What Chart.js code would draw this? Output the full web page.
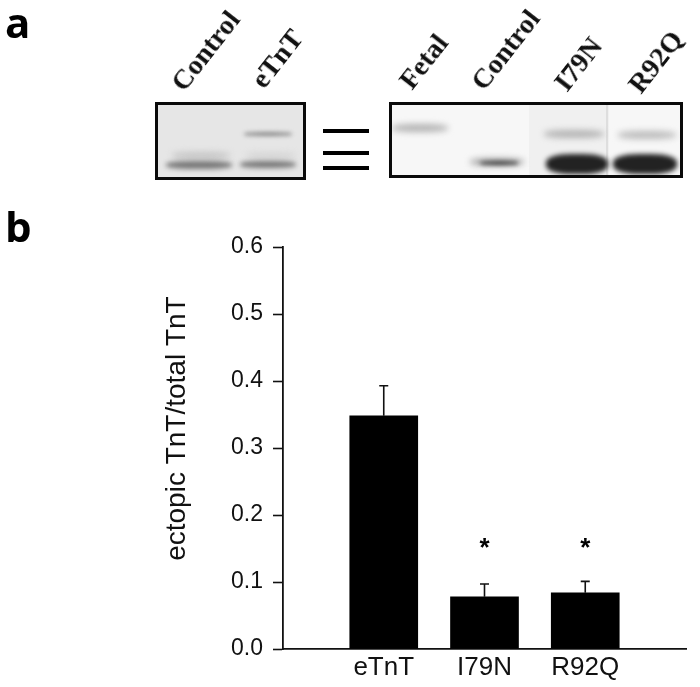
<!DOCTYPE html>
<html>
<head>
<meta charset="utf-8">
<script src="https://cdn.jsdelivr.net/npm/chart.js@4"></script>
<style>
  html, body { margin: 0; background: #fff; }
  #page { position: relative; width: 700px; height: 687px; overflow: hidden; }
  #ratio { position: absolute; left: 0; top: 0; }
  .letter { position: absolute; font: 700 42px "Open Sans", sans-serif; color: #000; line-height: 1; }
  .lane { position: absolute; font: bold 28px "Liberation Serif", serif; color: #111; white-space: nowrap;
          transform-origin: 0 100%; transform: rotate(-52deg); line-height: 1; filter: blur(0.4px); }
  .gel { position: absolute; box-sizing: border-box; border: 3.5px solid #0a0a0a; overflow: hidden; }
  .band, .shade { position: absolute; }
  .dash { position: absolute; left: 323px; width: 46px; height: 3.5px; background: #000; }
</style>
</head>
<body>
<div id="page">
  <canvas id="ratio" width="700" height="687"></canvas>

  <div class="letter" style="left:5px;top:1px">a</div>
  <div class="letter" style="left:5px;top:205px">b</div>

  <div class="lane" style="left:188px;top:68px">Control</div>
  <div class="lane" style="left:268px;top:65px">eTnT</div>
  <div class="lane" style="left:416px;top:66px">Fetal</div>
  <div class="lane" style="left:488px;top:67px">Control</div>
  <div class="lane" style="left:571px;top:68px">I79N</div>
  <div class="lane" style="left:645px;top:70px">R92Q</div>

  <div class="gel" id="gelLeft" style="left:155px;top:102px;width:151px;height:78px;background:#e6e6e6"></div>
  <div class="dash" style="top:129px"></div>
  <div class="dash" style="top:151px"></div>
  <div class="dash" style="top:166px"></div>
  <div class="gel" id="gelRight" style="left:389px;top:102px;width:294px;height:76px;background:#f7f7f7"></div>
</div>

<script>
// bar values
var categories = ['', 'eTnT', 'I79N', 'R92Q', ''];
var ratios = [null, 0.348, 0.078, 0.084, null];
var errorTops = [null, 0.393, 0.097, 0.101, null];
var starAt = [null, null, 0.15, 0.15, null];
var yTicks = [0, 0.1, 0.2, 0.3, 0.4, 0.5, 0.6];

// blots in panel a: x, y, w, h, colour, blur (relative to the gel box)
var leftBands = [
  [86, 27, 48, 4, '#888', 2],
  [14, 47, 58, 7, '#c4c4c4', 3],
  [88, 48, 50, 5, '#d0d0d0', 3],
  [8, 56, 66, 8, '#777', 2.5],
  [82, 56, 56, 7, '#777', 2.5]
];
var rightBands = [
  [0, 19, 56, 8, '#b4b4b4', 3],
  [78, 53, 54, 8, '#aaa', 3],
  [88, 56, 38, 4, '#444', 2],
  [152, 25, 60, 8, '#b4b4b4', 3],
  [226, 26, 58, 8, '#bcbcbc', 3],
  [154, 49, 62, 20, '#222', 2.5],
  [221, 49, 64, 20, '#222', 2.5]
];
var laneShades = [
  [137, 0, 80, 70, '#f0f0f0'],
  [214, 0, 2, 70, '#dedede']
];

function addBlots(id, bands) {
  var gel = document.getElementById(id);
  bands.forEach(function (b) {
    var d = document.createElement('div');
    d.className = 'band';
    d.style.cssText = 'left:' + b[0] + 'px;top:' + b[1] + 'px;width:' + b[2] + 'px;height:' + b[3] +
      'px;background:' + b[4] + ';border-radius:40%;filter:blur(' + b[5] + 'px)';
    gel.appendChild(d);
  });
}
function addShades(id, shades) {
  var gel = document.getElementById(id);
  shades.forEach(function (b) {
    var d = document.createElement('div');
    d.className = 'shade';
    d.style.cssText = 'left:' + b[0] + 'px;top:' + b[1] + 'px;width:' + b[2] + 'px;height:' + b[3] + 'px;background:' + b[4];
    gel.appendChild(d);
  });
}
addShades('gelRight', laneShades);
addBlots('gelLeft', leftBands);
addBlots('gelRight', rightBands);

// whiskers and asterisks, placed through the chart scales
var barExtras = {
  id: 'barExtras',
  afterDatasetsDraw: function (chart) {
    var ctx = chart.ctx, x = chart.scales.x, y = chart.scales.y;
    ctx.save();
    ctx.strokeStyle = '#111';
    ctx.lineWidth = 1.6;
    errorTops.forEach(function (top, i) {
      if (top === null) return;
      var px = x.getPixelForValue(i), t = y.getPixelForValue(top), b = y.getPixelForValue(ratios[i]);
      ctx.beginPath();
      ctx.moveTo(px, b); ctx.lineTo(px, t);
      ctx.moveTo(px - 4.5, t); ctx.lineTo(px + 4.5, t);
      ctx.stroke();
    });
    ctx.fillStyle = '#000';
    ctx.font = 'bold 26px "Liberation Sans"';
    ctx.textAlign = 'center';
    ctx.textBaseline = 'middle';
    starAt.forEach(function (v, i) {
      if (v !== null) ctx.fillText('*', x.getPixelForValue(i), y.getPixelForValue(v));
    });
    ctx.restore();
  }
};

new Chart(document.getElementById('ratio').getContext('2d'), {
  type: 'bar',
  data: {
    labels: categories,
    datasets: [{ data: ratios, backgroundColor: '#000', barThickness: 68 }]
  },
  options: {
    responsive: false,
    animation: false,
    layout: { padding: { top: 247, right: 14, left: 160, bottom: 0 } },
    plugins: { legend: { display: false }, tooltip: { enabled: false } },
    scales: {
      x: {
        offset: false,
        grid: { display: false, drawTicks: false },
        border: { color: '#111', width: 1.8 },
        ticks: { color: '#111', font: { family: 'Liberation Sans', size: 26 }, padding: 3, maxRotation: 0, autoSkip: false },
        afterFit: function (s) { s.height = 38; }
      },
      y: {
        min: 0,
        max: 0.6,
        afterBuildTicks: function (s) { s.ticks = yTicks.map(function (v) { return { value: v }; }); },
        grid: { display: true, drawOnChartArea: false, drawTicks: true, tickLength: 10, tickColor: '#111', tickWidth: 1.6 },
        border: { color: '#111', width: 1.8 },
        ticks: {
          color: '#111',
          font: { family: 'Liberation Sans', size: 23 },
          padding: 10,
          callback: function (v) { return v.toFixed(1); }
        },
        title: {
          display: true,
          // leading spaces lift the centred title to where it sits in the figure
          text: '     ectopic TnT/total TnT',
          color: '#111',
          font: { family: 'Liberation Sans', size: 28 },
          padding: 0
        },
        afterFit: function (s) { s.width = 123; }
      }
    }
  },
  plugins: [barExtras]
});
</script>
</body>
</html>
